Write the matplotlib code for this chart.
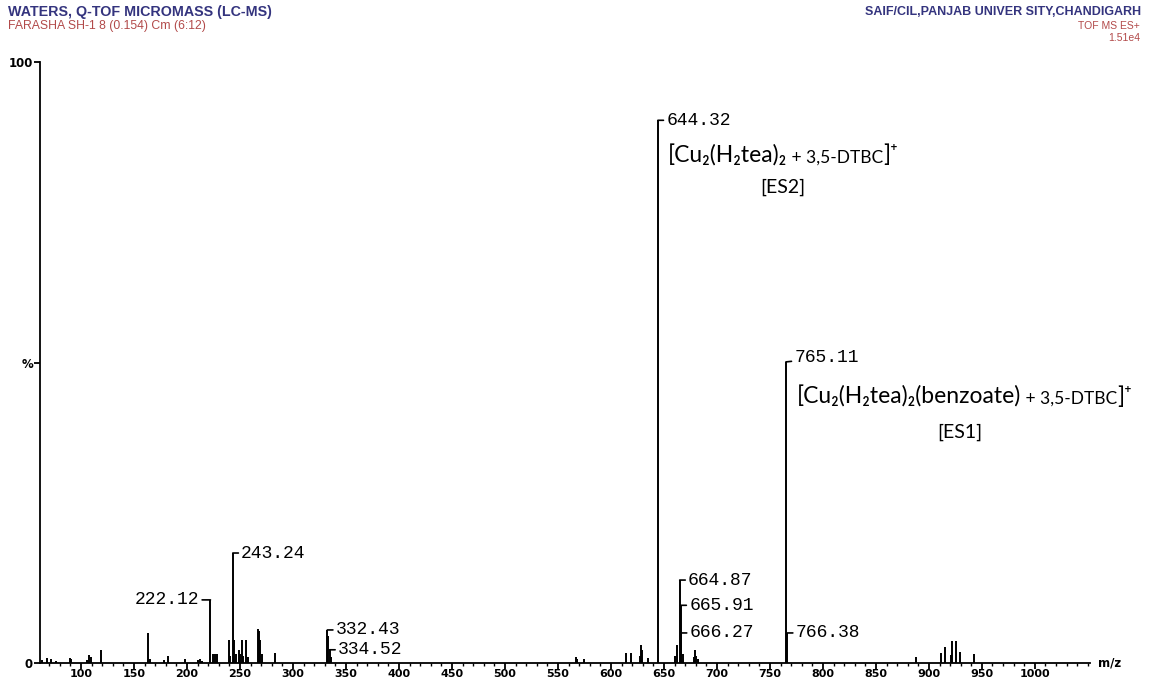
import matplotlib
matplotlib.use('Agg')
import matplotlib.pyplot as plt
from matplotlib.ticker import MultipleLocator, FixedLocator
from matplotlib.offsetbox import TextArea, HPacker, AnnotationBbox

# stick spectrum (m/z, relative intensity %)
peak_mz = [63, 68, 72, 76, 90, 91, 106, 108, 109, 119, 163, 165, 178, 182, 198,
           210, 212, 214, 222.12, 225, 226, 228, 240, 241, 243.24, 244, 246, 249,
           250, 252, 253, 256, 258, 267, 268, 269, 271, 283, 332.43, 333, 334.52,
           336, 567, 568, 575, 614, 619, 627, 628, 629, 635, 644.32, 660, 662,
           664.87, 665.91, 666.27, 668, 678, 679, 680, 682, 765.11, 766.38,
           888, 911, 915, 921, 922, 926, 929, 943]
peak_int = [0.5, 0.8, 0.6, 0.4, 0.8, 0.6, 0.5, 1.3, 1.0, 2.2, 5.0, 0.6, 0.5, 1.1, 0.7,
            0.5, 0.6, 0.4, 10.5, 1.5, 1.5, 1.5, 3.8, 1.2, 18.3, 3.8, 1.5, 2.2,
            1.5, 3.8, 1.2, 3.8, 1.0, 5.6, 5.4, 3.8, 1.5, 1.7, 5.5, 4.5, 2.2,
            1.0, 1.0, 0.7, 0.6, 1.7, 1.7, 1.2, 3.0, 2.2, 0.8, 90.3, 1.2, 3.0,
            13.8, 9.6, 5.0, 1.5, 1.0, 2.2, 1.2, 0.6, 50.1, 5.0,
            1.0, 1.7, 2.7, 1.4, 3.6, 3.6, 1.9, 1.5]

label_mz = [222.12, 243.24, 332.43, 334.52, 644.32, 664.87, 665.91, 666.27, 765.11, 766.38]
label_int = [10.5, 18.3, 5.5, 2.2, 90.3, 13.8, 9.6, 5.0, 50.1, 5.0]
label_text = ['222.12', '243.24', '332.43', '334.52', '644.32', '664.87', '665.91',
              '666.27', '765.11', '766.38']

x_ticks = list(range(100, 1001, 50))
y_ticks = [0, 50, 100]
y_ticklabels = ['0', '%', '100']

navy = '#34347e'
brick = '#b24a4a'
sans = ['Lato', 'Noto Sans', 'DejaVu Sans']

fig = plt.figure(figsize=(11.56, 6.82), dpi=100)
ax = fig.add_axes([40/1156, 19/682, 1050/1156, 601/682])

ax.vlines(peak_mz, 0, peak_int, color='black', lw=1.4)

ax.set_xlim(61.3, 1052)
ax.set_ylim(0, 100)
for s in ['top', 'right']:
    ax.spines[s].set_visible(False)
ax.spines['left'].set_linewidth(1.3)
ax.spines['bottom'].set_linewidth(1.3)

ax.xaxis.set_major_locator(FixedLocator(x_ticks))
ax.xaxis.set_minor_locator(MultipleLocator(10))
ax.set_xticklabels([str(t) for t in x_ticks])
ax.set_yticks(y_ticks)
ax.set_yticklabels(y_ticklabels)
ax.tick_params(axis='x', which='major', length=4, width=1.3, pad=0.5, labelsize=8)
ax.tick_params(axis='x', which='minor', length=2.5, width=1)
ax.tick_params(axis='y', length=4, width=1.3, pad=1, labelsize=8.5)
for lab in ax.get_xticklabels() + ax.get_yticklabels():
    lab.set_fontweight('heavy')
    lab.set_family('DejaVu Sans')
ax.text(1.008, 0, 'm/z', transform=ax.transAxes, fontsize=8.5, fontweight='bold',
        ha='left', va='center')

# peak labels with leader lines
for mz, inten, txt in zip(label_mz, label_int, label_text):
    left = txt == '222.12'
    dx = -8 if left else 6
    dy = 3 if txt == '765.11' else 0
    ax.annotate(txt, xy=(mz, inten), xytext=(dx, dy), textcoords='offset points',
                ha='right' if left else 'left', va='center',
                family='Liberation Mono', fontsize=13,
                arrowprops=dict(arrowstyle='-', lw=1.2, color='black',
                                shrinkA=0, shrinkB=0))


def formula(parts, xy):
    boxes = [TextArea(t, textprops=dict(fontsize=fs, family=sans)) for t, fs in parts]
    pack = HPacker(children=boxes, align='baseline', pad=0, sep=0)
    ab = AnnotationBbox(pack, xy, xycoords='data', frameon=False, box_alignment=(0, 0.5))
    ax.add_artist(ab)


formula([('[Cu\u2082(H\u2082tea)\u2082', 16.5), (' + 3,5-DTBC', 12.5), (']\u207a', 16.5)], (653.8, 84.5))
ax.text(762.3, 79.2, '[ES2]', fontsize=14, family=sans, ha='center', va='center')
formula([('[Cu\u2082(H\u2082tea)\u2082(benzoate)', 16.5), (' + 3,5-DTBC', 12.5), (']\u207a', 16.5)], (775.5, 44.3))
ax.text(929.2, 38.3, '[ES1]', fontsize=14, family=sans, ha='center', va='center')

# header texts
fig.text(8/1156, 1 - 12/682, 'WATERS, Q-TOF MICROMASS (LC-MS)', color=navy, fontsize=10.3,
         fontweight='bold', family='Liberation Sans', va='center', ha='left')
fig.text(8/1156, 1 - 26/682, 'FARASHA SH-1 8 (0.154) Cm (6:12)', color=brick, fontsize=8.8,
         family='Liberation Sans', va='center', ha='left')
fig.text(1141/1156, 1 - 12/682, 'SAIF/CIL,PANJAB UNIVER SITY,CHANDIGARH', color=navy, fontsize=9,
         fontweight='bold', family='Liberation Sans', va='center', ha='right')
fig.text(1140/1156, 1 - 26/682, 'TOF MS ES+', color=brick, fontsize=7.5,
         family='Liberation Sans', va='center', ha='right')
fig.text(1140/1156, 1 - 38/682, '1.51e4', color=brick, fontsize=7.5,
         family='Liberation Sans', va='center', ha='right')

fig.savefig('out.png', dpi=100)
